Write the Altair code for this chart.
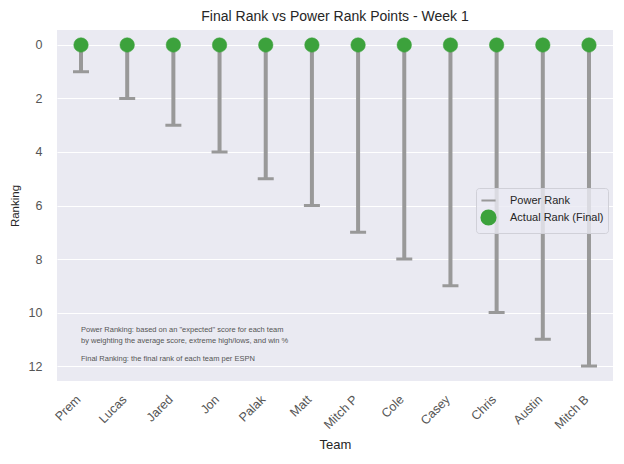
import altair as alt
import pandas as pd

teams = ["Prem", "Lucas", "Jared", "Jon", "Palak", "Matt",
         "Mitch P", "Cole", "Casey", "Chris", "Austin", "Mitch B"]
power_rank = [1, 2, 3, 4, 5, 6, 7, 8, 9, 10, 11, 12]
final_rank = [0, 0, 0, 0, 0, 0, 0, 0, 0, 0, 0, 0]

kinds = ["Power Rank", "Actual Rank (Final)"]
kind_colors = ["#999999", "#3ca23c"]

note_lines = [
    "Power Ranking: based on an \"expected\" score for each team",
    "by weighting the average score, extreme high/lows, and win %",
    "Final Ranking: the final rank of each team per ESPN",
]
note_y = [10.65, 11.07, 11.72]

FONT = "Liberation Sans"
BG = "#EAEAF2"

df = pd.DataFrame({
    "team": teams,
    "power": power_rank,
    "final": final_rank,
    "kind": kinds[1],
})
notes = pd.DataFrame({"team": teams[0], "text": note_lines, "y": note_y})

x_enc = alt.X(
    "team:N", sort=teams, title="Team",
    scale=alt.Scale(type="point", padding=0.52),
    axis=alt.Axis(labelAngle=315, labelAlign="right", labelBaseline="middle",
                  labelPadding=16, labelOffset=-3, grid=False, ticks=False,
                  domain=False, labelFontSize=12.5, titleFontSize=13,
                  titleY=57, titleBaseline="top"),
)
y_scale = alt.Scale(domain=[-0.56, 12.56], reverse=True, nice=False, zero=False)
y_axis = alt.Axis(values=[0, 2, 4, 6, 8, 10, 12], ticks=False, domain=False,
                  labelPadding=15, labelFontSize=12.5, titleFontSize=11.5,
                  titleX=-42, titleBaseline="middle")

legend = alt.Legend(
    title=None, orient="none", legendX=419, legendY=158,
    symbolSize=200, labelFontSize=11, labelColor="#262626", labelFont=FONT,
    labelOffset=13, fillColor="rgba(234,234,242,0.8)", strokeColor="#d0d0d8",
    cornerRadius=3, symbolStrokeWidth=2, padding=4, rowPadding=0,
)

base = alt.Chart(df)

stems = base.mark_rule(color=kind_colors[0], strokeWidth=4).encode(
    x=x_enc,
    y=alt.Y("final:Q", scale=y_scale, axis=y_axis, title="Ranking"),
    y2="power:Q",
)

caps = base.mark_tick(color=kind_colors[0], orient="horizontal", size=16,
                      thickness=3, opacity=1).encode(
    x=alt.X("team:N", sort=teams),
    y="power:Q",
)

dots = base.mark_point(filled=True, size=210, opacity=1, strokeWidth=0.5).encode(
    x=alt.X("team:N", sort=teams),
    y="final:Q",
    fill=alt.Fill("kind:N", scale=alt.Scale(domain=kinds, range=kind_colors),
                  legend=legend),
    stroke=alt.Stroke("kind:N", scale=alt.Scale(domain=kinds, range=kind_colors),
                      legend=legend),
    shape=alt.Shape("kind:N",
                    scale=alt.Scale(domain=kinds, range=["stroke", "circle"]),
                    legend=legend),
)

text = alt.Chart(notes).mark_text(
    align="left", baseline="middle", fontSize=7.5, font=FONT, color="#555555"
).encode(
    x=alt.X("team:N", sort=teams),
    y="y:Q",
    text="text:N",
)

chart = (
    alt.layer(stems, caps, dots, text)
    .properties(
        width=556, height=351,
        title=alt.Title("Final Rank vs Power Rank Points - Week 1",
                        fontSize=14, font=FONT, fontWeight="normal",
                        color="#262626", offset=6),
        autosize=alt.AutoSizeParams(type="none"),
        padding={"left": 49, "top": 22, "right": 3, "bottom": 75},
    )
    .configure_view(fill=BG, stroke=None)
    .configure_axis(
        labelFont=FONT, titleFont=FONT,
        labelColor="#555555", titleColor="#262626", titleFontWeight="normal",
        gridColor="#ffffff", gridWidth=1.2,
    )
    .configure_axisX(grid=False)
)

chart.save("out.html", embed_options={"renderer": "svg", "actions": False})
